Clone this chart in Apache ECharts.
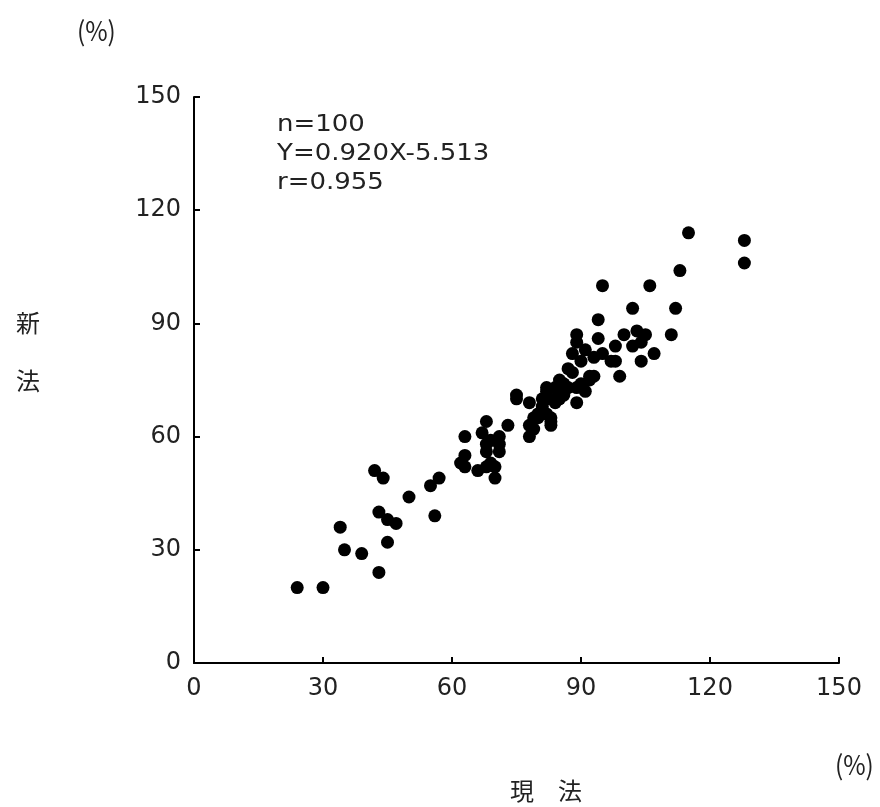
<!DOCTYPE html>
<html>
<head>
<meta charset="utf-8">
<script src="https://cdn.jsdelivr.net/npm/echarts@6/dist/echarts.min.js"></script>
<style>html,body{margin:0;padding:0;background:#fff}#c{width:880px;height:807px}</style>
</head>
<body>
<div id="c"></div>
<script>
// 現法 (x), 新法 (y)
const xValues = [24,30,34,35,39,43,42,44,43,45,47,45,50,55,57,56,63,63,62,63,66,68,70,70,68,71,67,68,69,71,71,73,75,75,78,78,78,79,80,81,81,82,82,83,83,84,84,86,86,89,89,91,85,87,88,92,93,92,88,90,91,93,95,97,98,99,104,107,98,102,104,105,103,100,94,89,89,94,102,112,111,95,106,113,115,128,128,82,82,80,83,86,81,85,87,90,84,79,68,69];
const yValues = [20,20,36,30,29,24,51,49,40,38,37,32,44,47,49,39,60,55,53,52,51,52,52,49,56,56,61,64,59,60,58,63,71,70,69,63,60,62,65,68,70,72,66,64,63,69,73,74,71,73,69,72,75,78,77,76,76,75,82,80,83,81,82,80,80,76,80,82,84,84,85,87,88,87,86,85,87,91,94,94,87,100,100,104,114,112,106,73,70,66,65,72,67,70,73,74,70,65,58,53];
const xTicks = [0,30,60,90,120,150];
const yTicks = [0,30,60,90,120,150];
const statsLines = ['n=100','Y=0.920X-5.513','r=0.955'];

const points = xValues.map((x,i)=>[x,yValues[i]]);
const numFont = '"DejaVu Sans", sans-serif';
const cjkFont = '"Noto Sans CJK JP", sans-serif';
const chart = echarts.init(document.getElementById('c'));
chart.setOption({
  animation:false,
  backgroundColor:'#fff',
  grid:{left:194,top:97,right:41,bottom:144},
  xAxis:{
    type:'value',min:xTicks[0],max:xTicks[xTicks.length-1],interval:30,
    axisLine:{lineStyle:{color:'#000',width:2}},
    axisTick:{show:true,inside:true,length:6,lineStyle:{color:'#000',width:2}},
    axisLabel:{fontSize:24,color:'#222',margin:14,fontFamily:numFont},
    splitLine:{show:false}
  },
  yAxis:{
    type:'value',min:yTicks[0],max:yTicks[yTicks.length-1],interval:30,
    axisLine:{show:true,lineStyle:{color:'#000',width:2}},
    axisTick:{show:true,inside:true,length:6,lineStyle:{color:'#000',width:2}},
    axisLabel:{fontSize:24,color:'#222',margin:13,fontFamily:numFont},
    splitLine:{show:false}
  },
  series:[{
    type:'scatter',data:points,symbolSize:13,
    itemStyle:{color:'#000',opacity:1}
  }],
  graphic:[
    {type:'text',x:277,y:111,scaleX:1.13,style:{text:statsLines.join('\n'),font:'23px '+numFont,fill:'#222',lineHeight:29}},
    {type:'text',x:77,y:17,scaleX:0.9,style:{text:'(%)',font:'27px '+cjkFont,fill:'#222'}},
    {type:'text',x:835,y:751,scaleX:0.9,style:{text:'(%)',font:'27px '+cjkFont,fill:'#222'}},
    {type:'text',left:510,top:779,style:{text:'現　法',font:'24px '+cjkFont,fill:'#222'}},
    {type:'text',left:16,top:311,style:{text:'新',font:'24px '+cjkFont,fill:'#222'}},
    {type:'text',left:16,top:369,style:{text:'法',font:'24px '+cjkFont,fill:'#222'}}
  ]
});
</script>
</body>
</html>
